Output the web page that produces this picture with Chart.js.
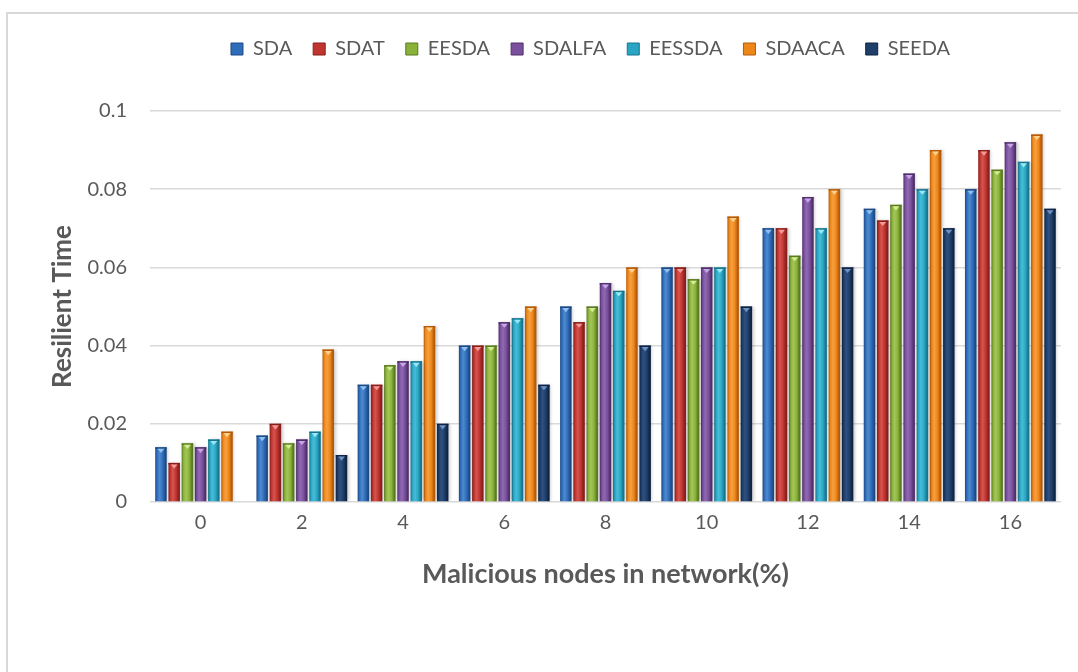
<!DOCTYPE html>
<html>
<head>
<meta charset="utf-8">
<script src="https://cdn.jsdelivr.net/npm/chart.js@4.4.0/dist/chart.umd.min.js"></script>
<style>
  html, body { margin: 0; padding: 0; background: #ffffff; }
  #wrap { position: relative; width: 1078px; height: 672px; overflow: hidden; }
  #wrap canvas { position: absolute; left: 0; top: 0; }
  #frame {
    position: absolute; left: 6px; top: 12px; width: 1200px; height: 800px;
    border-top: 2px solid #d9d9d9; border-left: 2px solid #d9d9d9;
    box-sizing: border-box; pointer-events: none;
  }
</style>
</head>
<body>
<div id="wrap">
  <canvas id="chart" width="1078" height="672"></canvas>
  <div id="frame"></div>
</div>
<script>
// Malicious node share (%) on the x axis
const categories = ['0', '2', '4', '6', '8', '10', '12', '14', '16'];

// Resilient time per scheme
const SDA    = [0.014, 0.017, 0.030, 0.040, 0.050, 0.060, 0.070, 0.075, 0.080];
const SDAT   = [0.010, 0.020, 0.030, 0.040, 0.046, 0.060, 0.070, 0.072, 0.090];
const EESDA  = [0.015, 0.015, 0.035, 0.040, 0.050, 0.057, 0.063, 0.076, 0.085];
const SDALFA = [0.014, 0.016, 0.036, 0.046, 0.056, 0.060, 0.078, 0.084, 0.092];
const EESSDA = [0.016, 0.018, 0.036, 0.047, 0.054, 0.060, 0.070, 0.080, 0.087];
const SDAACA = [0.018, 0.039, 0.045, 0.050, 0.060, 0.073, 0.080, 0.090, 0.094];
const SEEDA  = [null,  0.012, 0.020, 0.030, 0.040, 0.050, 0.060, 0.070, 0.075];

const seriesNames = ['SDA', 'SDAT', 'EESDA', 'SDALFA', 'EESSDA', 'SDAACA', 'SEEDA'];
const seriesValues = [SDA, SDAT, EESDA, SDALFA, EESSDA, SDAACA, SEEDA];

const yTickLabels = ['0', '0.02', '0.04', '0.06', '0.08', '0.1'];

// Bevelled fill: dark edge, base, highlight, base, dark edge; plus a light cap
const palette = [
  { dark: '#1d4a85', base: '#2f6dba', light: '#4f8ad0', cap: '#8fc0ee' },
  { dark: '#871f1c', base: '#c0352f', light: '#d65450', cap: '#f39a96' },
  { dark: '#5a7a20', base: '#8ab23b', light: '#a3c658', cap: '#d4ec94' },
  { dark: '#4f2f6b', base: '#7a509c', light: '#9169b3', cap: '#c7a6e6' },
  { dark: '#16768e', base: '#2aa6c4', light: '#47bdd8', cap: '#9ce6f6' },
  { dark: '#b45a08', base: '#ee871a', light: '#f6a040', cap: '#fcd08e' },
  { dark: '#0f2443', base: '#1f3e69', light: '#2d5181', cap: '#6d92c4' }
];

const textColor = '#595959';
const fontFamily = 'Lato, "Open Sans", sans-serif';

const datasets = seriesNames.map((name, i) => ({
  label: name,
  data: seriesValues[i],
  backgroundColor: palette[i].base,
  borderColor: palette[i].dark,
  borderWidth: 0,
  categoryPercentage: 0.914,
  barPercentage: 0.87
}));

const bevel = {
  id: 'bevel',
  afterLayout(chart) {
    // legend row sits slightly left of the plot centre
    chart.legend.left -= 15;
    chart.legend.right -= 15;
  },
  beforeDatasetsDraw(chart) {
    const ctx = chart.ctx;
    chart.data.datasets.forEach((ds, i) => {
      const p = palette[i];
      chart.getDatasetMeta(i).data.forEach((bar, j) => {
        if (ds.data[j] == null || !isFinite(bar.x) || !isFinite(bar.y)) return;
        const l = bar.x - bar.width / 2;
        const r = bar.x + bar.width / 2;
        const g = ctx.createLinearGradient(l, 0, r, 0);
        g.addColorStop(0, p.dark);
        g.addColorStop(0.16, p.base);
        g.addColorStop(0.38, p.light);
        g.addColorStop(0.66, p.base);
        g.addColorStop(0.9, p.dark);
        g.addColorStop(1, p.dark);
        bar.options = Object.assign({}, bar.options, { backgroundColor: g });
      });
    });
    ctx.save();
    ctx.shadowColor = 'rgba(0,0,0,0.22)';
    ctx.shadowOffsetX = 1.5;
    ctx.shadowOffsetY = 0;
    ctx.shadowBlur = 3;
  },
  afterDatasetsDraw(chart) {
    const ctx = chart.ctx;
    ctx.restore();
    chart.data.datasets.forEach((ds, i) => {
      const p = palette[i];
      chart.getDatasetMeta(i).data.forEach((bar, j) => {
        if (ds.data[j] == null || !isFinite(bar.x) || !isFinite(bar.y)) return;
        const w = bar.width;
        ctx.save();
        ctx.fillStyle = p.dark;
        ctx.fillRect(bar.x - w / 2, bar.y, w, 1.5);
        ctx.beginPath();
        ctx.moveTo(bar.x - w * 0.3, bar.y + 1.5);
        ctx.lineTo(bar.x + w * 0.3, bar.y + 1.5);
        ctx.lineTo(bar.x, bar.y + 1.5 + w * 0.36);
        ctx.closePath();
        ctx.fillStyle = p.cap;
        ctx.fill();
        ctx.restore();
      });
    });
  }
};

const chart = new Chart(document.getElementById('chart'), {
  type: 'bar',
  data: { labels: categories, datasets },
  plugins: [bevel],
  options: {
    responsive: false,
    animation: false,
    devicePixelRatio: 1,
    layout: { padding: { left: 40, right: 17, top: 18, bottom: 79 } },
    plugins: {
      tooltip: { enabled: false },
      legend: {
        position: 'top',
        fullSize: false,
        labels: {
          boxWidth: 12,
          boxHeight: 12,
          padding: 21,
          color: textColor,
          font: { family: fontFamily, size: 20 },
          generateLabels(c) {
            return c.data.datasets.map((ds, i) => ({
              text: ds.label,
              fillStyle: palette[i].base,
              strokeStyle: palette[i].dark,
              lineWidth: 1,
              fontColor: textColor,
              hidden: false,
              datasetIndex: i
            }));
          }
        }
      }
    },
    scales: {
      x: {
        grid: { display: false, drawTicks: false },
        border: { display: false },
        ticks: { color: textColor, font: { family: fontFamily, size: 20 }, padding: 9 },
        title: {
          display: true,
          text: 'Malicious nodes in network(%)',
          color: textColor,
          font: { family: fontFamily, size: 27, weight: 'bold' },
          padding: { top: 0, bottom: 3 }
        },
        afterFit(s) { s.height = 91; }
      },
      y: {
        min: 0,
        max: 0.1,
        grid: { color: '#d9d9d9', lineWidth: 1.5, drawTicks: false },
        border: { display: false },
        ticks: {
          stepSize: 0.02,
          padding: 23,
          color: textColor,
          font: { family: fontFamily, size: 20 },
          callback: (v, idx) => yTickLabels[idx]
        },
        title: {
          display: true,
          text: 'Resilient Time',
          color: textColor,
          font: { family: fontFamily, size: 26, weight: 'bold' },
          padding: { top: 7, bottom: 4 }
        },
        afterFit(s) { s.width = 110; }
      }
    }
  }
});

// Reserve the band above the plot for the legend
const baseLegendFit = chart.legend.fit;
chart.legend.fit = function () {
  baseLegendFit.call(this);
  this.height = 93;
};
chart.update();
</script>
</body>
</html>
